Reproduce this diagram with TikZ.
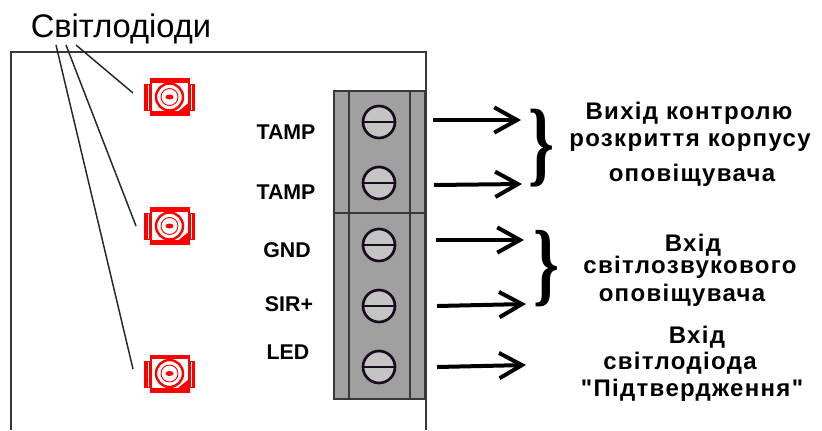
\documentclass[tikz,border=0pt]{standalone}
\usepackage{fontspec}
\setmainfont{Liberation Sans}
\newfontfamily\bracefont{Liberation Serif}
\newfontfamily\capfont[LetterSpace=5.5]{Liberation Sans}
\usetikzlibrary{arrows.meta}
\definecolor{blockgray}{HTML}{A0A0A0}
\definecolor{screwgray}{HTML}{C4C4C4}
\definecolor{edgegray}{HTML}{383838}
\definecolor{screwedge}{HTML}{1A0A1E}
\tikzset{
    pin/.style={font=\bfseries\fontsize{16}{16}\selectfont,inner sep=0pt},
    caption/.style={font=\capfont\bfseries\fontsize{18}{18}\selectfont,inner sep=0pt},
    curly/.style={font=\bracefont\bfseries\fontsize{66}{66}\selectfont,inner sep=0pt},
    wire/.style={line width=3pt,black,-{Straight Barb[length=17pt,width=19pt,line width=3pt]}},
    pointer/.style={line width=1.1pt,black!85},
    screw/.style={circle,draw=screwedge,fill=screwgray,line width=2pt,minimum size=24pt,inner sep=0pt,
        path picture={\draw[screwedge,line width=2pt] (path picture bounding box.west) -- (path picture bounding box.east);}},
    led/.style={rectangle,minimum width=39pt,minimum height=29pt,inner sep=0pt,
        path picture={
            \begin{scope}[shift={(path picture bounding box.center)},red]
                \fill (-19.5,-19) rectangle (20.5,19);
                \fill (-25.5,-13) rectangle (-19,14);
                \fill (20,-13) rectangle (25.5,14);
                \fill[white] (-18,-15) rectangle (19,14.5);
                \draw[white,line width=0.6pt] (-21.5,-12) -- (-21.5,13);
                \draw[white,line width=0.6pt] (22,-12) -- (22,13);
                \draw[line width=0.6pt] (-18,-15) rectangle (19,14.5);
                \fill (19,6) -- (19,15) -- (8,15) -- cycle;
                \draw[line width=1.8pt] (0,0) circle (13.5);
                \draw[line width=0.7pt] (0,0) circle (8.5);
                \fill (0,0) ellipse (4 and 2.5);
            \end{scope}}},
}
\begin{document}
\begin{tikzpicture}[x=0.75pt,y=-0.75pt]
    \useasboundingbox (0,0) rectangle (822,430);

    % board outline
    \draw[edgegray,line width=2.2pt] (11,430) -- (11,52) -- (426,52) -- (426,430);

    % terminal block
    \draw[edgegray,line width=2.2pt,fill=blockgray] (334,91) rectangle (425,399);
    \draw[edgegray,line width=2.2pt] (349,91) -- (349,399);
    \draw[edgegray,line width=2.2pt] (410,91) -- (410,399);
    \draw[edgegray,line width=2.2pt] (334,213) -- (425,213);

    \node(s1) at (379,122) [screw] {};
    \node(s2) at (379,183) [screw] {};
    \node(s3) at (379,245) [screw] {};
    \node(s4) at (379,306) [screw] {};
    \node(s5) at (379,367) [screw] {};

    % pin names
    \node(p1) at (286,132) [pin] {TAMP};
    \node(p2) at (286,192) [pin] {TAMP};
    \node(p3) at (287,250) [pin] {GND};
    \node(p4) at (289,304) [pin] {SIR+};
    \node(p5) at (288,352) [pin] {LED};

    % leds
    \node(l1) at (169.5,97) [led] {};
    \node(l2) at (169.5,226) [led] {};
    \node(l3) at (169.5,373.5) [led] {};

    \node(title) at (121,29) [inner sep=0pt,font=\fontsize{24.5}{24.5}\selectfont] {Світлодіоди};
    \coordinate(t1) at (76,45);
    \coordinate(t2) at (66,45);
    \coordinate(t3) at (56,45);
    \coordinate(e1) at (133,93);
    \coordinate(e2) at (136,226);
    \coordinate(e3) at (133,369);
    \draw [pointer] (t1) -- (e1);
    \draw [pointer] (t2) -- (e2);
    \draw [pointer] (t3) -- (e3);

    % wires
    \coordinate(a1) at (433,120);
    \coordinate(b1) at (521,120);
    \coordinate(a2) at (434,185);
    \coordinate(b2) at (522,184);
    \coordinate(a3) at (436,240);
    \coordinate(b3) at (524,240);
    \coordinate(a4) at (437,306);
    \coordinate(b4) at (526,304);
    \coordinate(a5) at (437,367);
    \coordinate(b5) at (526,365);
    \draw [wire] (a1) -- (b1);
    \draw [wire] (a2) -- (b2);
    \draw [wire] (a3) -- (b3);
    \draw [wire] (a4) -- (b4);
    \draw [wire] (a5) -- (b5);

    % braces
    \node(c1) at (541,148) [curly] {\scalebox{.75}[1.07]{\}}};
    \node(c2) at (546.5,269) [curly] {\scalebox{.75}[1.05]{\}}};

    % captions
    \node(k1) at (689,113) [caption] {Вихід контролю};
    \node(k2) at (690,143) [caption] {розкриття корпусу};
    \node(k3) at (692,175) [caption] {оповіщувача};
    \node(k4) at (693,245) [caption] {Вхід};
    \node(k5) at (690,267) [caption] {світлозвукового};
    \node(k6) at (682,295) [caption] {оповіщувача};
    \node(k7) at (697,337) [caption] {Вхід};
    \node(k8) at (680,363) [caption] {світлодіода};
    \node(k9) at (692,390) [caption] {"Підтвердження"};
\end{tikzpicture}
\end{document}
